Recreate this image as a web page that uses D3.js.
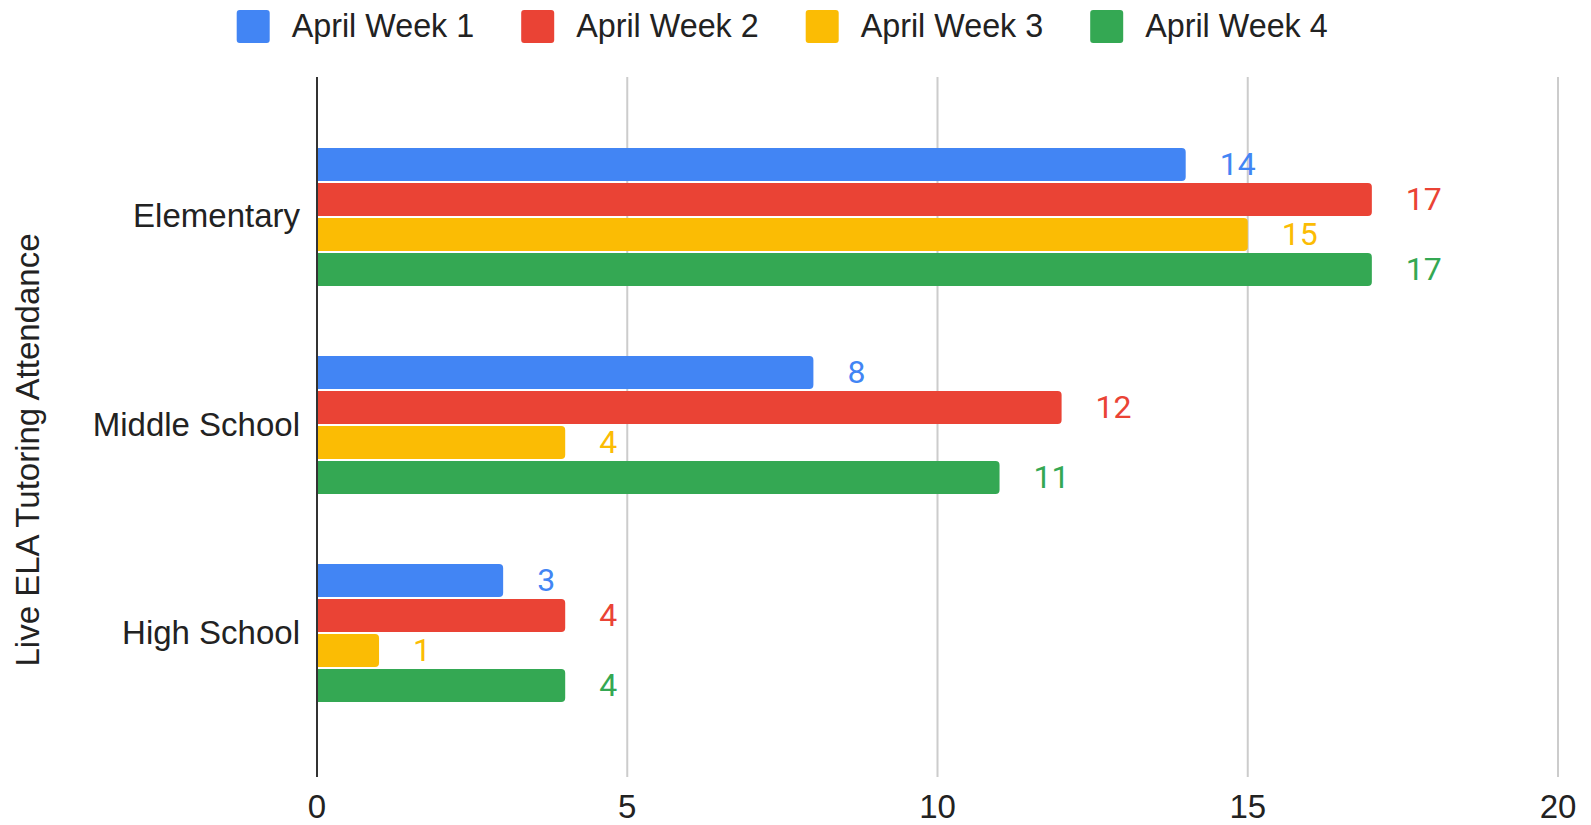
<html>
  <head>
    <style>
      body {
        margin: 0;
        background: #fff;
      }
      .label {
        font-family: "Liberation Sans", Arial, sans-serif;
        font-size: 33px;
        fill: #222;
      }
      .legend-label {
        font-family: "Liberation Sans", Arial, sans-serif;
        font-size: 32.3px;
        fill: #222;
      }
      .value {
        font-family: Roboto, sans-serif;
        font-size: 32px;
      }
    </style>
  </head>
  <body>
    <svg></svg>

    <script src="https://d3js.org/d3.v7.min.js"></script>
    <script>
      let width = 1591,
        height = 825;

      // chart data
      const categories = ["Elementary", "Middle School", "High School"];
      const seriesNames = ["April Week 1", "April Week 2", "April Week 3", "April Week 4"];
      const week1 = [14, 8, 3];
      const week2 = [17, 12, 4];
      const week3 = [15, 4, 1];
      const week4 = [17, 11, 4];
      const xTicks = [0, 5, 10, 15, 20];
      const axisTitle = "Live ELA Tutoring Attendance";

      const colors = ["#4285F4", "#EA4335", "#FBBC04", "#34A853"];
      const seriesValues = [week1, week2, week3, week4];

      let svg = d3.select("svg").attr("width", width).attr("height", height);

      let x = d3.scaleLinear().domain([0, 20]).range([317, 1558]);
      let y = d3
        .scaleBand()
        .domain(categories)
        .range([75, 775])
        .paddingInner(0.337)
        .paddingOuter(0.351);
      let ySub = d3
        .scaleBand()
        .domain(seriesNames)
        .range([0, y.bandwidth()])
        .paddingInner(0.06);

      // gridlines
      svg
        .append("g")
        .attr("id", "grid")
        .selectAll("line")
        .data(xTicks.filter((d) => d > 0))
        .enter()
        .append("line")
        .attr("x1", (d) => x(d))
        .attr("x2", (d) => x(d))
        .attr("y1", 77)
        .attr("y2", 777)
        .attr("stroke", "#ccc")
        .attr("stroke-width", 2);

      // x tick labels
      svg
        .append("g")
        .selectAll("text")
        .data(xTicks)
        .enter()
        .append("text")
        .attr("class", "label")
        .attr("x", (d) => x(d))
        .attr("y", 818)
        .attr("text-anchor", "middle")
        .text((d) => d);

      // rounded on the right end only
      function barPath(x0, y0, w, h, r) {
        r = Math.min(r, w, h / 2);
        return (
          "M" + x0 + "," + y0 +
          "H" + (x0 + w - r) +
          "Q" + (x0 + w) + "," + y0 + " " + (x0 + w) + "," + (y0 + r) +
          "V" + (y0 + h - r) +
          "Q" + (x0 + w) + "," + (y0 + h) + " " + (x0 + w - r) + "," + (y0 + h) +
          "H" + x0 + "Z"
        );
      }

      let rows = [];
      categories.forEach((c, ci) => {
        seriesNames.forEach((s, si) => {
          rows.push({ cat: c, series: s, si: si, value: seriesValues[si][ci] });
        });
      });

      svg
        .append("g")
        .attr("id", "bars")
        .selectAll("path")
        .data(rows)
        .enter()
        .append("path")
        .attr("d", (d) =>
          barPath(x(0), y(d.cat) + ySub(d.series), x(d.value) - x(0), ySub.bandwidth(), 4)
        )
        .attr("fill", (d) => colors[d.si]);

      svg
        .append("g")
        .attr("id", "values")
        .selectAll("text")
        .data(rows)
        .enter()
        .append("text")
        .attr("class", "value")
        .attr("x", (d) => x(d.value) + 34)
        .attr("y", (d) => y(d.cat) + ySub(d.series) + ySub.bandwidth() / 2 + 10.5)
        .attr("fill", (d) => colors[d.si])
        .text((d) => d.value);

      // category labels
      svg
        .append("g")
        .selectAll("text")
        .data(categories)
        .enter()
        .append("text")
        .attr("class", "label")
        .attr("x", 300)
        .attr("y", (d) => y(d) + y.bandwidth() / 2 + 10.5)
        .attr("text-anchor", "end")
        .text((d) => d);

      // axis line
      svg
        .append("line")
        .attr("x1", x(0))
        .attr("x2", x(0))
        .attr("y1", 77)
        .attr("y2", 777)
        .attr("stroke", "#333")
        .attr("stroke-width", 2);

      // axis title
      svg
        .append("text")
        .attr("class", "label")
        .attr("transform", "translate(38.5,450) rotate(-90)")
        .attr("text-anchor", "middle")
        .text(axisTitle);

      // legend
      let legend = svg.append("g").attr("id", "legend");
      let lx = 236.7;
      seriesNames.forEach((s, i) => {
        legend
          .append("rect")
          .attr("x", lx)
          .attr("y", 10)
          .attr("width", 33)
          .attr("height", 33)
          .attr("rx", 3)
          .attr("fill", colors[i]);
        let t = legend
          .append("text")
          .attr("class", "legend-label")
          .attr("x", lx + 55)
          .attr("y", 37)
          .text(s);
        lx = lx + 55 + t.node().getComputedTextLength() + 47;
      });
    </script>
  </body>
</html>
